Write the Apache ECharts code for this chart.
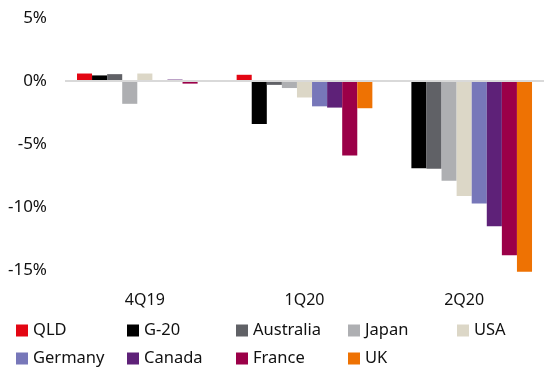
<!DOCTYPE html>
<html>
<head>
<meta charset="utf-8">
<style>html,body{margin:0;padding:0;background:#fff;}#c{width:552px;height:370px;}</style>
<script src="https://cdn.jsdelivr.net/npm/echarts@6/dist/echarts.min.js"></script>
</head>
<body>
<div id="c"></div>
<script>
var categories = ['4Q19', '1Q20', '2Q20'];
var seriesNames = ['QLD', 'G-20', 'Australia', 'Japan', 'USA', 'Germany', 'Canada', 'France', 'UK'];
var colors = ['#e30613', '#000000', '#606166', '#aeafb2', '#dcd7c7', '#7777b9', '#5e2178', '#9b0048', '#ee7203'];
var QLD       = [0.6, 0.5, null];
var G20       = [0.45, -3.4, -6.9];
var Australia = [0.55, -0.3, -6.95];
var Japan     = [-1.8, -0.55, -7.9];
var USA       = [0.6, -1.3, -9.1];
var Germany   = [0.0, -2.0, -9.7];
var Canada    = [0.12, -2.1, -11.5];
var France    = [-0.2, -5.9, -13.8];
var UK        = [0.0, -2.15, -15.1];
var values = [QLD, G20, Australia, Japan, USA, Germany, Canada, France, UK];
var yTicks = [5, 0, -5, -10, -15];

var font = 'Noto Sans';
var series = seriesNames.map(function (n, i) {
  var s = {
    name: n, type: 'bar', data: values[i],
    itemStyle: { color: colors[i] },
    barGap: '0%', barCategoryGap: '15%',
    emphasis: { disabled: true }
  };
  if (i === 0) {
    s.markLine = {
      silent: true, symbol: 'none', label: { show: false },
      lineStyle: { color: '#d9d9d9', width: 2, type: 'solid' },
      data: [{ yAxis: 0 }], animation: false
    };
  }
  return s;
});

var colLeft = [16, 127, 236, 348, 457];
var rowTop = [322, 350];
var legends = seriesNames.map(function (n, i) {
  var row = i < 5 ? 0 : 1;
  var col = i < 5 ? i : i - 5;
  return {
    left: colLeft[col], top: rowTop[row], padding: 0,
    itemWidth: 12, itemHeight: 12,
    icon: 'rect', selectedMode: false,
    textStyle: { fontFamily: font, fontSize: 16.5, color: '#111' },
    data: [n]
  };
});

var chart = echarts.init(document.getElementById('c'));
chart.setOption({
  animation: false,
  color: colors,
  grid: { left: 65, right: 8, top: 18, bottom: 87 },
  legend: legends,
  xAxis: {
    type: 'category', data: categories,
    axisLine: { show: false }, axisTick: { show: false },
    axisLabel: { fontFamily: font, fontSize: 16, color: '#111', margin: 9 }
  },
  yAxis: {
    type: 'value', min: -16, max: 5,
    splitLine: { show: false }, axisLine: { show: false }, axisTick: { show: false },
    axisLabel: {
      fontFamily: font, fontSize: 17, color: '#111', margin: 18,
      formatter: function (v) { return yTicks.indexOf(v) >= 0 ? v + '%' : ''; }
    }
  },
  series: series
});
</script>
</body>
</html>
